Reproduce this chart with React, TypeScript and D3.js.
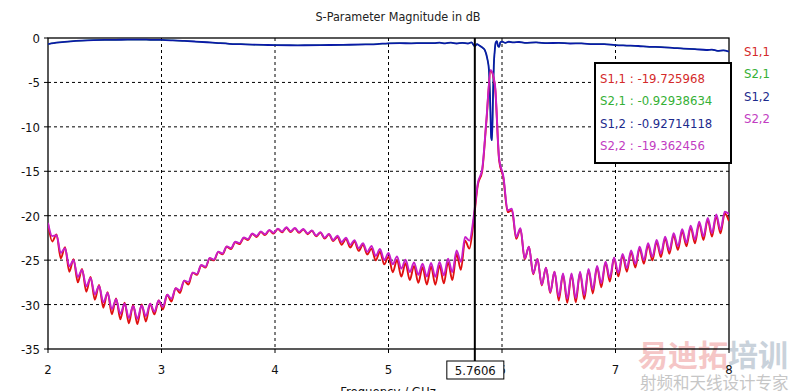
import React from "react";
import * as d3 from "d3";

const W = 792;
const H = 391;
const PLOT = { left: 48, right: 729, top: 38, bottom: 349 };
const FONT = "'DejaVu Sans Condensed', 'Liberation Sans', sans-serif";

// S1,1 / S2,2 are sampled on a regular grid: 2 GHz + i * 0.0375 GHz
const F_START = 2;
const F_STEP = 0.0375;

const S22_DB = [
  -20.8, -22.3, -22.2, -24.2, -23.65, -25.7, -25.0, -26.9, -26.1, -27.95,
  -27.0, -28.85, -27.9, -29.75, -28.7, -30.5, -29.4, -31.05, -29.9, -31.5,
  -30.15, -31.6, -30.1, -31.3, -29.9, -30.8, -29.55, -30.25, -28.9, -29.35,
  -28.15, -28.4, -27.3, -27.45, -26.4, -26.55, -25.55, -25.74, -24.75, -24.93,
  -24.05, -24.25, -23.45, -23.64, -22.93, -23.09, -22.45, -22.63, -22.0, -22.29,
  -21.78, -22.08, -21.6, -21.92, -21.45, -21.78, -21.3, -21.74, -21.38, -21.83,
  -21.5, -21.98, -21.65, -22.23, -21.85, -22.48, -22.04, -22.74, -22.25, -22.96,
  -22.48, -23.28, -22.75, -23.66, -23.1, -24.07, -23.4, -24.53, -23.75, -24.98,
  -24.2, -25.47, -24.58, -25.96, -24.95, -26.34, -25.25, -26.65, -25.4, -26.84,
  -25.32, -26.88, -25.2, -26.72, -24.85, -26.35, -23.9, -25.2, -22.4, -22.8,
  -20.2, -16.3, -14.8, -9.2, -3.6, -5.2, -13.6, -15.6, -19.4, -19.2,
  -22.4, -21.4, -24.8, -23.5, -26.5, -24.86, -27.75, -25.84, -28.6, -26.3,
  -29.1, -26.5, -29.35, -26.5, -29.3, -26.3, -28.95, -26.0, -28.3, -25.66,
  -27.6, -25.17, -26.97, -24.69, -26.43, -24.29, -25.9, -23.9, -25.42, -23.49,
  -25.0, -23.1, -24.63, -22.74, -24.25, -22.36, -23.88, -21.98, -23.45, -21.53,
  -23.04, -21.11, -22.7, -20.67, -22.33, -20.24, -21.95, -19.86, -21.58, -19.55,
  -19.8,
];

const S11_DB = [
  -20.9, -22.9, -22.1, -24.8, -23.55, -26.3, -24.9, -27.5, -26.0, -28.55,
  -26.9, -29.45, -27.8, -30.35, -28.6, -31.1, -29.3, -31.65, -29.8, -32.1,
  -30.05, -32.2, -30.0, -31.9, -29.9, -31.1, -29.55, -30.55, -28.9, -29.65,
  -28.15, -28.7, -27.3, -27.75, -26.4, -26.65, -25.6, -25.84, -24.8, -25.03,
  -24.1, -24.35, -23.5, -23.74, -22.98, -23.19, -22.5, -22.73, -22.05, -22.39,
  -21.83, -22.18, -21.65, -22.02, -21.5, -21.88, -21.35, -21.84, -21.43, -21.93,
  -21.55, -22.08, -21.7, -22.33, -21.9, -22.58, -22.09, -22.84, -22.4, -23.26,
  -22.63, -23.58, -22.9, -23.96, -23.25, -24.37, -23.7, -25.03, -24.05, -25.48,
  -24.6, -26.37, -24.98, -26.86, -25.35, -27.24, -25.65, -27.55, -25.8, -27.74,
  -25.72, -27.78, -25.6, -27.62, -25.25, -27.25, -24.3, -26.1, -22.8, -23.7,
  -20.6, -16.5, -15.0, -9.4, -3.7, -5.4, -13.8, -15.8, -19.6, -19.4,
  -22.6, -21.5, -24.9, -23.5, -26.6, -24.86, -27.85, -25.84, -28.7, -26.3,
  -29.55, -26.6, -29.8, -26.6, -29.75, -26.4, -29.4, -26.1, -28.75, -25.76,
  -28.05, -25.27, -27.42, -24.79, -26.83, -24.49, -26.3, -24.1, -25.82, -23.69,
  -25.4, -23.3, -25.03, -22.94, -24.65, -22.56, -24.28, -22.18, -23.85, -21.73,
  -23.44, -21.31, -23.1, -20.87, -22.73, -20.44, -22.35, -20.06, -21.98, -19.75,
  -20.6,
];

// S2,1 / S1,2 (transmission) at their own frequencies
const THRU_FREQ = [
  2.0, 2.05, 2.1, 2.2, 2.3, 2.4, 2.5, 2.6, 2.7, 2.8,
  2.9, 3.0, 3.1, 3.2, 3.3, 3.4, 3.5, 3.6, 3.7, 3.8,
  3.9, 4.0, 4.2, 4.4, 4.6, 4.8, 4.9, 5.0, 5.1, 5.2,
  5.3, 5.4, 5.45, 5.5, 5.55, 5.6, 5.65, 5.7, 5.73, 5.76,
  5.78, 5.8, 5.83, 5.85, 5.87, 5.885, 5.895, 5.905, 5.912, 5.92,
  5.928, 5.935, 5.945, 5.955, 5.965, 5.975, 5.985, 6.0, 6.03, 6.06,
  6.1, 6.15, 6.2, 6.3, 6.4, 6.5, 6.6, 6.7, 6.8, 6.9,
  7.0, 7.1, 7.2, 7.3, 7.4, 7.5, 7.6, 7.7, 7.8, 7.85,
  7.9, 7.95, 8.0,
];
const S12_DB = [
  -0.68, -0.58, -0.5, -0.38, -0.3, -0.25, -0.22, -0.2, -0.19, -0.18,
  -0.2, -0.22, -0.27, -0.33, -0.4, -0.48, -0.57, -0.65, -0.7, -0.75,
  -0.78, -0.8, -0.82, -0.8, -0.77, -0.72, -0.68, -0.6, -0.58, -0.6,
  -0.57, -0.58, -0.53, -0.6, -0.52, -0.62, -0.55, -0.62, -0.5, -0.9,
  -0.7, -0.85, -1.1, -1.4, -2.3, -3.6, -6.8, -11.2, -11.5, -7.0,
  -3.0, -1.6, -0.5, -0.35, -0.9, -1.0, -0.5, -0.4, -0.55, -0.42,
  -0.5, -0.45, -0.55, -0.5, -0.58, -0.55, -0.62, -0.6, -0.7, -0.68,
  -0.8, -0.85, -0.9, -1.0, -1.02, -1.1, -1.2, -1.25, -1.35, -1.3,
  -1.45, -1.4, -1.55,
];
const S21_DB = [
  -0.68, -0.58, -0.5, -0.38, -0.3, -0.25, -0.22, -0.2, -0.19, -0.18,
  -0.2, -0.22, -0.27, -0.33, -0.4, -0.48, -0.57, -0.65, -0.7, -0.75,
  -0.78, -0.8, -0.82, -0.8, -0.77, -0.72, -0.68, -0.6, -0.58, -0.6,
  -0.57, -0.58, -0.53, -0.6, -0.52, -0.62, -0.55, -0.62, -0.5, -0.93,
  -0.7, -0.85, -1.1, -1.4, -2.3, -3.6, -6.8, -11.2, -11.5, -7.0,
  -3.0, -1.6, -0.5, -0.35, -0.9, -1.0, -0.5, -0.4, -0.55, -0.42,
  -0.5, -0.45, -0.55, -0.5, -0.58, -0.55, -0.62, -0.6, -0.7, -0.68,
  -0.8, -0.85, -0.9, -1.0, -1.02, -1.1, -1.2, -1.25, -1.35, -1.3,
  -1.45, -1.4, -1.55,
];

const X_TICKS = [2, 3, 4, 5, 6, 7, 8];
const Y_TICKS = [0, -5, -10, -15, -20, -25, -30, -35];

const SERIES_NAMES = ["S1,1", "S2,1", "S1,2", "S2,2"];
const LINE_COLORS = ["#e01010", "#20b020", "#0a1aa8", "#c81ec8"];
const TEXT_COLORS = ["#d42a2a", "#35b035", "#1c2a8c", "#c23cc2"];

const MARKER_FREQ = 5.7606;
const MARKER_LABEL = "5.7606";
const MARKER_VALUES = ["-19.725968", "-0.92938634", "-0.92714118", "-19.362456"];

const x = d3.scaleLinear().domain([2, 8]).range([PLOT.left, PLOT.right]);
const y = d3.scaleLinear().domain([-35, 0]).range([PLOT.bottom, PLOT.top]);

type Pt = [number, number];
const gridPts = (vals: number[]): Pt[] => vals.map((v, i) => [F_START + i * F_STEP, v]);
const thruPts = (vals: number[]): Pt[] => vals.map((v, i) => [THRU_FREQ[i], v]);

const line = d3
  .line<Pt>()
  .x((d) => x(d[0]))
  .y((d) => y(d[1]))
  .curve(d3.curveMonotoneX);

export default function App() {
  const mx = x(MARKER_FREQ);
  const curves = [
    { pts: thruPts(S21_DB), color: LINE_COLORS[1], w: 1.2 },
    { pts: thruPts(S12_DB), color: LINE_COLORS[2], w: 1.8 },
    { pts: gridPts(S11_DB), color: LINE_COLORS[0], w: 1.9 },
    { pts: gridPts(S22_DB), color: LINE_COLORS[3], w: 1.9 },
  ];

  return (
    <svg
      width={W}
      height={H}
      style={{ position: "absolute", left: 0, top: 0, background: "#fff" }}
      fontFamily={FONT}
    >
      <defs>
        <clipPath id="plotClip">
          <rect x={PLOT.left} y={PLOT.top - 2} width={PLOT.right - PLOT.left} height={PLOT.bottom - PLOT.top + 2} />
        </clipPath>
      </defs>

      {/* watermark */}
      <g opacity={0.75}>
        <text x={638} y={366} fontSize={30} fontWeight="bold" fill="#f2b3b3" fontFamily="'Noto Sans CJK SC', sans-serif">
          易迪拓<tspan fill="#b8c4d0">培训</tspan>
        </text>
        <text x={640} y={389} fontSize={16.5} fill="#b4b4b4" fontFamily="'Noto Sans CJK SC', sans-serif">
          射频和天线设计专家
        </text>
      </g>

      <text x={398} y={21} textAnchor="middle" fontSize={12.5} fill="#222">
        S-Parameter Magnitude in dB
      </text>

      {/* grid */}
      {X_TICKS.filter((t) => t > 2 && t < 8).map((t) => (
        <line key={"gx" + t} x1={x(t)} x2={x(t)} y1={PLOT.top} y2={PLOT.bottom} stroke="#000" strokeDasharray="3,3" />
      ))}
      {Y_TICKS.filter((t) => t < 0 && t > -35).map((t) => (
        <line key={"gy" + t} x1={PLOT.left} x2={PLOT.right} y1={y(t)} y2={y(t)} stroke="#000" strokeDasharray="3,3" />
      ))}

      {/* frame */}
      <rect x={PLOT.left} y={PLOT.top} width={PLOT.right - PLOT.left} height={PLOT.bottom - PLOT.top} fill="none" stroke="#000" strokeWidth={1.3} />

      {/* ticks and labels */}
      {Y_TICKS.map((t) => (
        <g key={"yt" + t}>
          <line x1={PLOT.left - 4} x2={PLOT.left} y1={y(t)} y2={y(t)} stroke="#000" />
          <text x={40} y={y(t) + 5} textAnchor="end" fontSize={13} fill="#111">
            {t}
          </text>
        </g>
      ))}
      {X_TICKS.map((t) => (
        <g key={"xt" + t}>
          <line x1={x(t)} x2={x(t)} y1={PLOT.bottom} y2={PLOT.bottom + 4} stroke="#000" />
          <text x={x(t)} y={374} textAnchor="middle" fontSize={13} fill="#111">
            {t}
          </text>
        </g>
      ))}
      <text x={388} y={396} textAnchor="middle" fontSize={13} fill="#111">
        Frequency / GHz
      </text>

      {/* curves */}
      <g clipPath="url(#plotClip)">
        {curves.map((c, i) => (
          <path key={i} d={line(c.pts) || ""} fill="none" stroke={c.color} strokeWidth={c.w} strokeLinejoin="round" />
        ))}
      </g>

      {/* marker */}
      <line x1={mx} x2={mx} y1={PLOT.top} y2={PLOT.bottom + 12} stroke="#000" strokeWidth={2} />
      <rect x={mx - 28} y={361} width={57} height={18} fill="#fff" stroke="#000" />
      <text x={mx + 0.5} y={375} textAnchor="middle" fontSize={13} fill="#111">
        {MARKER_LABEL}
      </text>

      {/* marker readout */}
      <rect x={595} y={63} width={136} height={100} fill="#fff" stroke="#000" strokeWidth={2} />
      {SERIES_NAMES.map((n, i) => (
        <text key={"mv" + n} x={600} y={83 + i * 22.3} fontSize={13} fill={TEXT_COLORS[i]}>
          {n} : {MARKER_VALUES[i]}
        </text>
      ))}

      {/* legend */}
      {SERIES_NAMES.map((n, i) => (
        <text key={"lg" + n} x={744} y={56 + i * 22.4} fontSize={13} fill={TEXT_COLORS[i]}>
          {n}
        </text>
      ))}
    </svg>
  );
}
